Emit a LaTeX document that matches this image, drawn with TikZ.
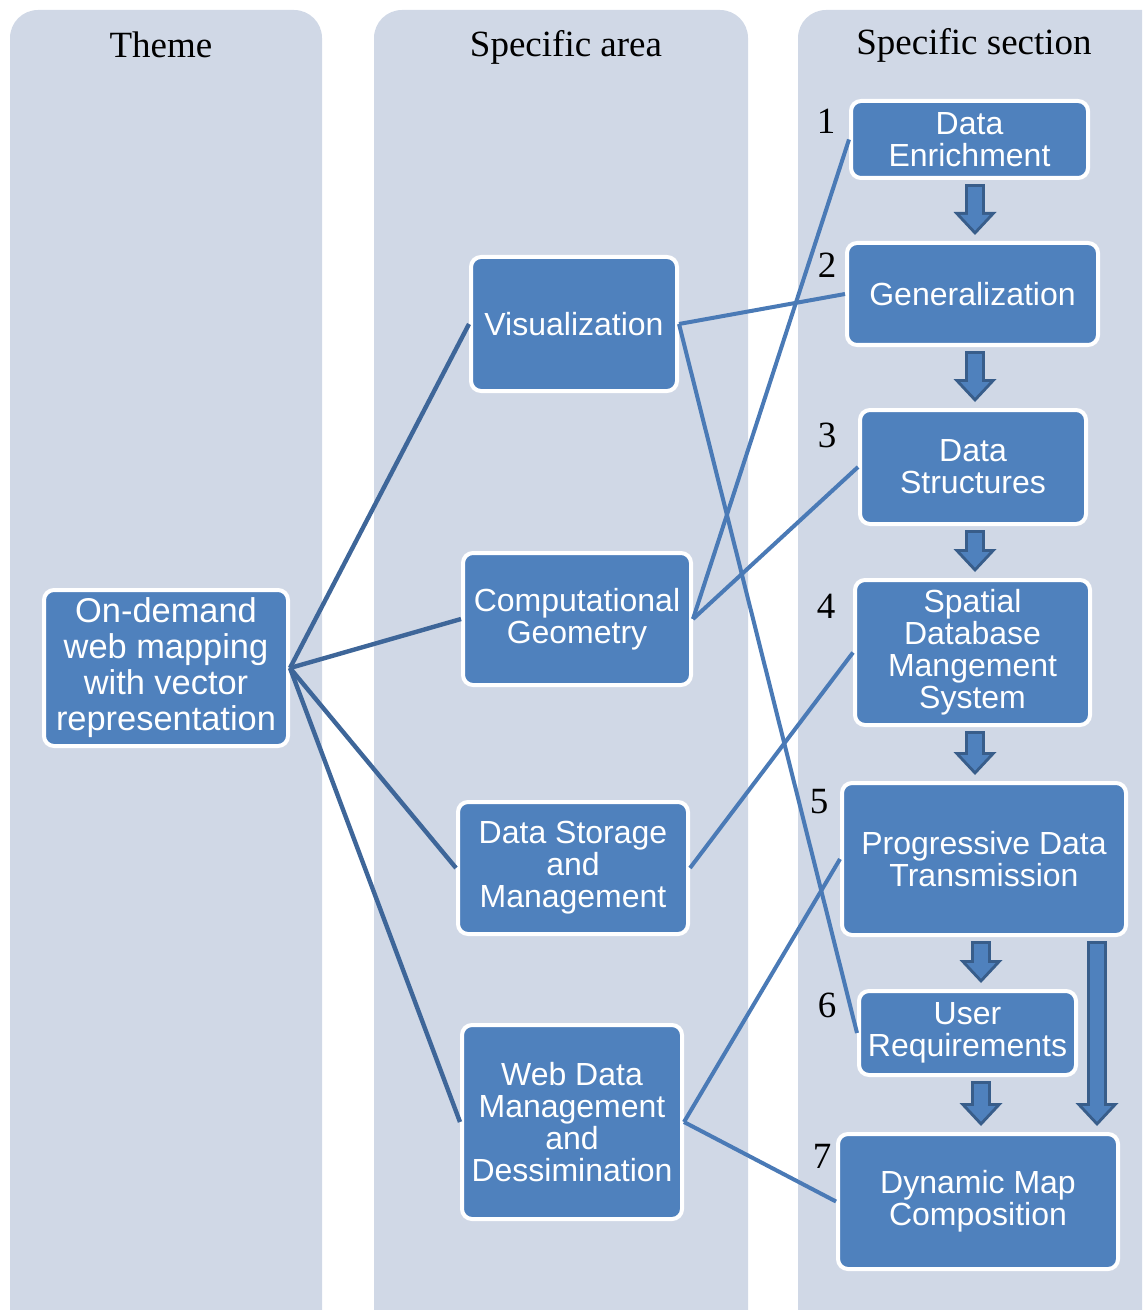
\documentclass[tikz,border=0pt]{standalone}
\usepackage{fontspec}
\setmainfont{Liberation Serif}
\newfontfamily\boxfont{Liberation Sans}
\usetikzlibrary{calc,arrows.meta}

\definecolor{colbg}{RGB}{208,216,230}
\definecolor{boxblue}{RGB}{79,129,189}
\definecolor{linkdark}{RGB}{62,102,153}
\definecolor{linklight}{RGB}{74,122,182}
\definecolor{arrowedge}{RGB}{56,93,138}

\tikzset{
    box/.style={rectangle, rounded corners=5pt, draw=white, line width=2pt,
        fill=boxblue, text=white, align=center, inner sep=0pt,
        font=\boxfont\fontsize{16}{16}\selectfont},
    header/.style={font=\fontsize{18.5}{22}\selectfont},
    fatout/.style={draw=arrowedge, line width=10pt,
        -{Triangle[width=21.5pt,length=11.5pt,line width=0pt]},
        shorten <=2pt, shorten >=3pt},
    fatin/.style={draw=boxblue, line width=7pt,
        -{Triangle[width=14.6pt,length=7.8pt,line width=0pt]},
        shorten <=3.5pt, shorten >=5.2pt}
}

% block arrow from #1 down to #2, moved sideways by #3
\newcommand{\fatarrow}[3]{%
    \draw[fatout] ($(#1.south)+(#3,0)$) -- ($(#1.south |- #2.north)+(#3,0)$);
    \draw[fatin] ($(#1.south)+(#3,0)$) -- ($(#1.south |- #2.north)+(#3,0)$);}

\begin{document}
\begin{tikzpicture}[x=0.5pt,y=-0.5pt]
    \clip (0,0) rectangle (1142,1310);
    % columns
    \fill[colbg, rounded corners=14pt] (10,10) rectangle (322,1350);
    \fill[colbg, rounded corners=14pt] (374,10) rectangle (748,1350);
    \fill[colbg, rounded corners=14pt] (798,10) rectangle (1180,1350);
    \begin{scope}[every node/.style={header}]
        \node (htheme) at (161,45) {Theme};
        \node (harea) at (566,47) {Specific area};
        \node (hsection) at (974,45) {Specific section};
    \end{scope}
    % theme and areas
    \node[box, minimum width=122pt, minimum height=78pt,
        font=\boxfont\fontsize{17.2}{18}\selectfont] (theme) at (166,668)
        {On-demand\\web mapping\\with vector\\representation};
    \begin{scope}[every node/.style={box}]
        \node[minimum width=103pt, minimum height=67pt] (vis) at (574,324) {Visualization};
        \node[minimum width=114pt, minimum height=66pt] (geom) at (577,619) {Computational\\Geometry};
        \node[minimum width=115pt, minimum height=66pt] (storage) at (573,868) {Data Storage\\and\\Management};
        \node[minimum width=110pt, minimum height=97pt] (webdata) at (572,1122) {Web Data\\Management\\and\\Dessimination};
    \end{scope}
    % sections
    \begin{scope}[every node/.style={box}]
        \node[minimum width=118.5pt, minimum height=38.5pt] (enrich) at (969.5,139.5) {Data\\Enrichment};
        \node[minimum width=125.5pt, minimum height=51pt] (general) at (972.5,294) {Generalization};
        \node[minimum width=113pt, minimum height=57pt] (struct) at (973,467) {Data\\Structures};
        \node[minimum width=117.5pt, minimum height=72.5pt] (sdbms) at (972.5,652.5) {Spatial\\Database\\Mangement\\System};
        \node[minimum width=142pt, minimum height=76pt] (progress) at (984,859) {Progressive Data\\Transmission};
        \node[minimum width=108.5pt, minimum height=42pt] (user) at (967.5,1033) {User\\Requirements};
        \node[minimum width=140pt, minimum height=67.5pt] (dynmap) at (978,1201.5) {Dynamic Map\\Composition};
    \end{scope}
    \begin{scope}[every node/.style={header}]
        \node (n1) at (826,121) {1};
        \node (n2) at (827,265) {2};
        \node (n3) at (827,435) {3};
        \node (n4) at (826,606) {4};
        \node (n5) at (819,802) {5};
        \node (n6) at (827,1005) {6};
        \node (n7) at (822,1156) {7};
    \end{scope}
    % links
    \begin{scope}[every edge/.style={draw=linkdark, line width=2.2pt}]
        \path
            (theme.east) edge (vis.west)
            (theme.east) edge (geom.west)
            (theme.east) edge (storage.west)
            (theme.east) edge (webdata.west);
    \end{scope}
    \begin{scope}[every edge/.style={draw=linklight, line width=2pt}]
        \path
            (vis.east) edge (general.west)
            (vis.east) edge (user.west)
            (geom.east) edge (enrich.west)
            (geom.east) edge (struct.west)
            (storage.east) edge (sdbms.west)
            (webdata.east) edge (progress.west)
            (webdata.east) edge (dynmap.west);
    \end{scope}
    % block arrows
    \fatarrow{enrich}{general}{5.5}
    \fatarrow{general}{struct}{2.5}
    \fatarrow{struct}{sdbms}{2}
    \fatarrow{sdbms}{progress}{2.5}
    \fatarrow{progress}{user}{-3}
    \fatarrow{user}{dynmap}{13.5}
    \fatarrow{progress}{dynmap}{113}
\end{tikzpicture}
\end{document}
